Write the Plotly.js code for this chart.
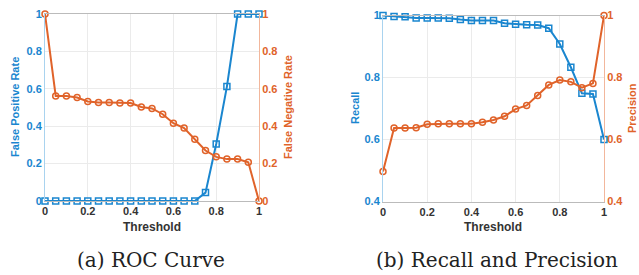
<!DOCTYPE html>
<html><head><meta charset="utf-8">
<script src="https://cdn.plot.ly/plotly-3.0.1.min.js"></script>
<style>body{margin:0;background:#fff}#c{width:639px;height:275px}</style>
</head><body><div id="c"></div>
<script>
const threshold = [0,0.05,0.1,0.15,0.2,0.25,0.3,0.35,0.4,0.45,0.5,0.55,0.6,0.65,0.7,0.75,0.8,0.85,0.9,0.95,1];
const fpr = [0,0,0,0,0,0,0,0,0,0,0,0,0,0,0,0.045,0.305,0.612,1,1,1];
const fnr = [1,0.562,0.562,0.553,0.532,0.527,0.527,0.524,0.524,0.503,0.495,0.464,0.416,0.39,0.33,0.27,0.236,0.224,0.224,0.207,0];
const recall = [1,0.997,0.996,0.992,0.992,0.992,0.991,0.987,0.984,0.984,0.984,0.975,0.972,0.97,0.969,0.959,0.908,0.833,0.749,0.747,0.6];
const precision = [0.497,0.637,0.637,0.638,0.649,0.651,0.651,0.651,0.651,0.656,0.663,0.675,0.698,0.71,0.742,0.776,0.792,0.786,0.767,0.781,1];
const tickVals01 = [0,0.2,0.4,0.6,0.8,1];
const tickText01 = ['0','0.2','0.4','0.6','0.8','1'];
const tickVals46 = [0.4,0.6,0.8,1];
const tickText46 = ['0.4','0.6','0.8','1'];

const BLUE = '#1a86cf', ORANGE = '#e0632a';
const W = 639, H = 275;
const dx = (a,b)=>[a/W,b/W];
const dy = (t,b)=>[1-b/H,1-t/H];
const ff = 'Liberation Sans, Arial, sans-serif';
const tf = (c,s)=>({family:ff,size:s||11,color:c,weight:'bold'});

function line(x,y,xa,ya,color,sym){
  return {x:x,y:y,xaxis:xa,yaxis:ya,type:'scatter',mode:'lines+markers',cliponaxis:false,
    line:{color:color,width:2},marker:{symbol:sym,size:6,color:color,line:{color:color,width:1.5}},showlegend:false};
}
const data = [
  line(threshold,fpr,'x','y',BLUE,'square-open'),
  line(threshold,fnr,'x','y2',ORANGE,'circle-open'),
  line(threshold,recall,'x2','y3',BLUE,'square-open'),
  line(threshold,precision,'x2','y4',ORANGE,'circle-open')
];
function xax(dom,anchor){
  return {domain:dom,anchor:anchor,range:[0,1],tickvals:tickVals01,ticktext:tickText01,tickfont:tf('#333'),
    showgrid:true,gridcolor:'#ebebeb',zeroline:false,showline:true,linecolor:'#bbb',mirror:true,ticks:'',ticklen:0};
}
function yax(dom,anchor,range,tv,tt,color,side,over){
  const o = {domain:dom,anchor:anchor,range:range,tickvals:tv,ticktext:tt,tickfont:tf(color),side:side,
    showgrid:!over,gridcolor:'#ebebeb',zeroline:false,showline:true,linecolor:side==='left'?'#a9d3ef':'#f2b79c',ticks:'',ticklen:0};
  if(over){o.overlaying=over;}
  return o;
}
function ann(text,x,y,font,angle){
  return {text:text,x:x/W,y:1-y/H,xref:'paper',yref:'paper',xanchor:'center',yanchor:'middle',showarrow:false,textangle:angle||0,font:font};
}
const serif = {family:'DejaVu Serif, serif',size:20,color:'#222'};
const layout = {
  width:W,height:H,margin:{l:0,r:0,t:0,b:0},paper_bgcolor:'#fff',plot_bgcolor:'#fff',
  xaxis:xax(dx(45,259),'y'),
  yaxis:yax(dy(14,201),'x',[0,1],tickVals01,tickText01,BLUE,'left',null),
  yaxis2:yax(dy(14,201),'x',[0,1],tickVals01,tickText01,ORANGE,'right','y'),
  xaxis2:xax(dx(383,604),'y3'),
  yaxis3:yax(dy(15.5,201.5),'x2',[0.4,1],tickVals46,tickText46,BLUE,'left',null),
  yaxis4:yax(dy(15.5,201.5),'x2',[0.4,1],tickVals46,tickText46,ORANGE,'right','y3'),
  annotations:[
    ann('Threshold',152,227,tf('#333',12)),
    ann('Threshold',493,227,tf('#333',12)),
    ann('False Positive Rate',15,107,tf(BLUE),-90),
    ann('False Negative Rate',288,107,tf(ORANGE),-90),
    ann('Recall',355,108,tf(BLUE),-90),
    ann('Precision',632,108,tf(ORANGE),-90),
    ann('(a) ROC Curve',151,260,serif),
    ann('(b) Recall and Precision',497,260,serif)
  ]
};
Plotly.newPlot('c',data,layout,{staticPlot:true,displayModeBar:false});
</script></body></html>
